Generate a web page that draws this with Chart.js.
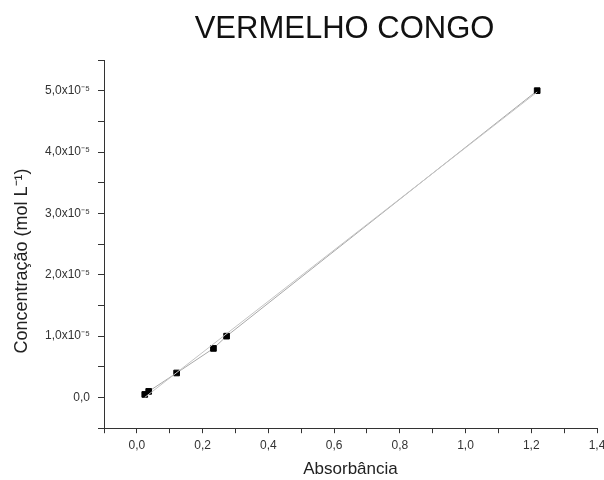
<!DOCTYPE html>
<html>
<head>
<meta charset="utf-8">
<script src="https://cdn.jsdelivr.net/npm/chart.js@4"></script>
<style>
  body { margin: 0; background: #fff; }
  #wrap { width: 604px; height: 480px; }
</style>
</head>
<body>
<div id="wrap"><canvas id="grafico"></canvas></div>
<script>
// Dados
const absorbancia = [0.024, 0.036, 0.121, 0.233, 0.273, 1.218];
const concentracao = [0.05e-5, 0.1e-5, 0.4e-5, 0.8e-5, 1.0e-5, 5.0e-5];
const titulo = 'VERMELHO CONGO';
const tituloY = 'Concentração (mol L⁻¹)';

// Ajuste linear (calculado a partir dos pontos)
function ajusteLinear(xs, ys) {
    const n = xs.length;
    const mx = xs.reduce((a, b) => a + b, 0) / n;
    const my = ys.reduce((a, b) => a + b, 0) / n;
    let sxy = 0, sxx = 0;
    for (let i = 0; i < n; i++) {
        sxy += (xs[i] - mx) * (ys[i] - my);
        sxx += (xs[i] - mx) * (xs[i] - mx);
    }
    const a = sxy / sxx;
    const b = my - a * mx;
    return [
        { x: xs[0], y: a * xs[0] + b },
        { x: xs[n - 1], y: a * xs[n - 1] + b }
    ];
}

const pontos = absorbancia.map((x, i) => ({ x: x, y: concentracao[i] }));
const fonte = "'Liberation Sans', Arial, sans-serif";

// Título principal e título do eixo Y desenhados à mão
const titulosPlugin = {
    id: 'titulos',
    afterDraw(chart) {
        const c = chart.ctx;
        const area = chart.chartArea;
        c.save();
        c.font = '31px ' + fonte;
        c.fillStyle = '#111';
        c.textAlign = 'center';
        c.textBaseline = 'middle';
        c.fillText(titulo, (area.left + area.right) / 2 - 6, 29);

        c.font = '18px ' + fonte;
        c.fillStyle = '#222';
        c.translate(22, 261);
        c.rotate(-Math.PI / 2);
        c.fillText(tituloY, 0, 0);
        c.restore();
    }
};

const ctx = document.getElementById('grafico').getContext('2d');
new Chart(ctx, {
    type: 'scatter',
    data: {
        datasets: [{
            label: 'Ajuste',
            data: ajusteLinear(absorbancia, concentracao),
            showLine: true,
            borderColor: '#c4c4c4',
            borderWidth: 1,
            pointRadius: 0
        }, {
            label: 'Vermelho Congo',
            data: pontos,
            showLine: true,
            borderColor: '#a8a8a8',
            borderWidth: 1,
            pointStyle: 'rect',
            pointRadius: 4,
            backgroundColor: '#000',
            pointBorderColor: '#000'
        }]
    },
    plugins: [titulosPlugin],
    options: {
        responsive: true,
        maintainAspectRatio: false,
        animation: false,
        layout: { padding: { top: 60, right: 0, left: 37, bottom: 0 } },
        plugins: {
            legend: { display: false },
            tooltip: { enabled: false }
        },
        scales: {
            x: {
                type: 'linear',
                min: -0.1,
                max: 1.4,
                afterFit: function (scale) {
                    scale.paddingRight = 7;
                },
                border: { color: '#333', width: 1 },
                grid: { drawOnChartArea: false, drawTicks: true, tickLength: 5, color: '#333' },
                ticks: {
                    stepSize: 0.1,
                    autoSkip: false,
                    maxRotation: 0,
                    color: '#333',
                    font: { family: fonte, size: 12 },
                    padding: 5,
                    callback: function (v) {
                        const n = Math.round(v * 10);
                        if (n < 0 || n % 2 !== 0) return '';
                        return (n / 10).toFixed(1).replace('.', ',');
                    }
                },
                title: {
                    display: true,
                    text: 'Absorbância',
                    color: '#222',
                    font: { family: fonte, size: 17 },
                    padding: { top: 2, bottom: 0 }
                }
            },
            y: {
                type: 'linear',
                min: -0.5e-5,
                max: 5.5e-5,
                border: { color: '#333', width: 1 },
                grid: { drawOnChartArea: false, drawTicks: true, tickLength: 6, color: '#333' },
                ticks: {
                    stepSize: 0.5e-5,
                    autoSkip: false,
                    color: '#333',
                    font: { family: fonte, size: 12 },
                    padding: 8,
                    callback: function (v) {
                        const n = Math.round(v / 0.5e-5);
                        if (n < 0 || n % 2 !== 0) return '';
                        if (n === 0) return '0,0';
                        return (n / 2).toFixed(1).replace('.', ',') + 'x10⁻⁵';
                    }
                }
            }
        }
    }
});
</script>
</body>
</html>
